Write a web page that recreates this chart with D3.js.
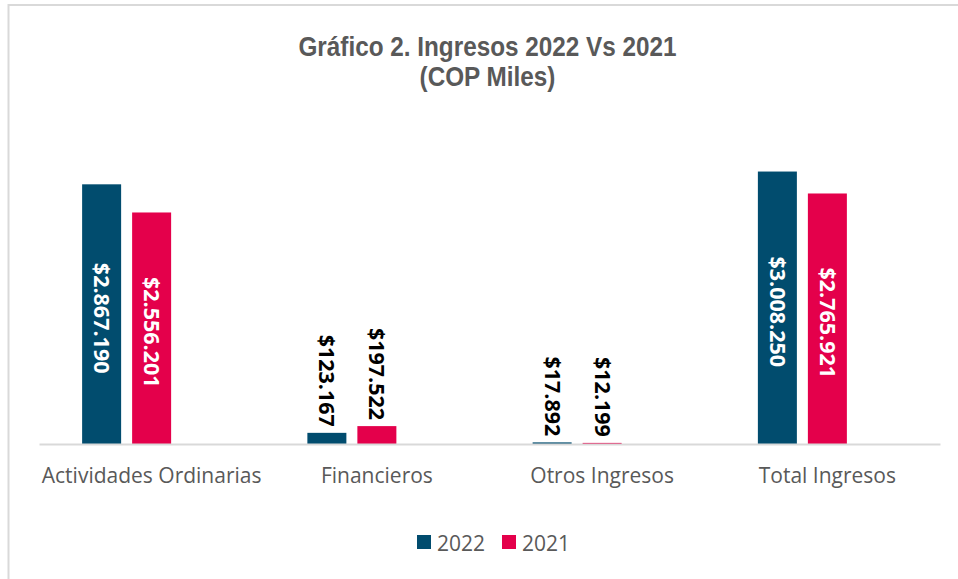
<!DOCTYPE html>
<html><head><meta charset="utf-8">
<script src="https://cdn.jsdelivr.net/npm/d3@7"></script>
<style>html,body{margin:0;padding:0;background:#fff;overflow:hidden}</style>
</head><body>
<svg id="chart" width="958" height="579"></svg>
<script>
const categories = ["Actividades Ordinarias", "Financieros", "Otros Ingresos", "Total Ingresos"];
const seriesNames = ["2022", "2021"];
const values2022 = [2867190, 123167, 17892, 3008250];
const values2021 = [2556201, 197522, 12199, 2765921];
const labels2022 = ["$2.867.190", "$123.167", "$17.892", "$3.008.250"];
const labels2021 = ["$2.556.201", "$197.522", "$12.199", "$2.765.921"];
const seriesColors = ["#014c6e", "#e4004b"];
const titleLines = ["Gráfico 2. Ingresos 2022 Vs 2021", "(COP Miles)"];

const svg = d3.select("#chart");
const font = "'Open Sans', 'DejaVu Sans', sans-serif";

// outer frame
svg.append("rect").attr("x", 8.5).attr("y", 5).attr("width", 1200).attr("height", 1200)
  .attr("fill", "none").attr("stroke", "#d9d9d9").attr("stroke-width", 2);

const plot = {left: 39, right: 940, top: 127, bottom: 444};
const x0 = d3.scaleBand().domain(categories).range([plot.left, plot.right]).padding(0);
const x1 = d3.scaleBand().domain(["2022", "2021", "_"]).range([0, x0.bandwidth()])
  .paddingInner(0.22).paddingOuter(0.8625);
const y = d3.scaleLinear().domain([0, 3500000]).range([plot.bottom, plot.top]);

const data = [];
categories.forEach((c, i) => {
  data.push({cat: c, s: "2022", v: values2022[i], label: labels2022[i], color: seriesColors[0]});
  data.push({cat: c, s: "2021", v: values2021[i], label: labels2021[i], color: seriesColors[1]});
});

svg.append("g").selectAll("rect").data(data).join("rect")
  .attr("x", d => x0(d.cat) + x1(d.s))
  .attr("y", d => y(d.v))
  .attr("width", x1.bandwidth())
  .attr("height", d => y(0) - y(d.v))
  .attr("fill", d => d.color);

// axis baseline
const xAxis = d3.axisBottom(x0).tickSize(0).tickPadding(24);
const gx = svg.append("g").attr("transform", `translate(0,${plot.bottom})`).call(xAxis);
gx.select(".domain").attr("stroke", "#d9d9d9").attr("stroke-width", 2);
gx.selectAll("text").attr("font-family", font).attr("font-size", 21).attr("fill", "#595959");

// data labels
const inside = d => (y(0) - y(d.v)) > 150;
svg.append("g").selectAll("text").data(data).join("text")
  .attr("transform", d => {
    const cx = x0(d.cat) + x1(d.s) + x1.bandwidth() / 2;
    const cy = inside(d) ? (y(d.v) + y(0)) / 2 + 4 : y(d.v) - 6;
    return `translate(${cx},${cy}) rotate(90)`;
  })
  .attr("text-anchor", d => inside(d) ? "middle" : "end")
  .attr("dy", "0.35em")
  .attr("font-family", font).attr("font-weight", "bold").attr("font-size", 21.5)
  .attr("fill", d => inside(d) ? "#ffffff" : "#000000")
  .text(d => d.label);

// title (condensed look via horizontal scale)
svg.append("g").attr("transform", "translate(487.5,0) scale(0.853,1)")
  .selectAll("text").data(titleLines).join("text")
  .attr("x", 0).attr("y", (d, i) => 56 + i * 30)
  .attr("text-anchor", "middle")
  .attr("font-family", "'Liberation Sans Narrow', 'Arial Narrow', 'Liberation Sans', sans-serif")
  .attr("font-weight", "bold").attr("font-size", 28.5).attr("fill", "#595959")
  .text(d => d);

// legend
const legend = svg.append("g").selectAll("g").data(seriesNames).join("g")
  .attr("transform", (d, i) => `translate(${417 + i * 85},535)`);
legend.append("rect").attr("width", 14).attr("height", 14).attr("fill", (d, i) => seriesColors[i]);
legend.append("text").attr("x", 20).attr("y", 16)
  .attr("font-family", font).attr("font-size", 21).attr("fill", "#595959").text(d => d);
</script>
</body></html>
